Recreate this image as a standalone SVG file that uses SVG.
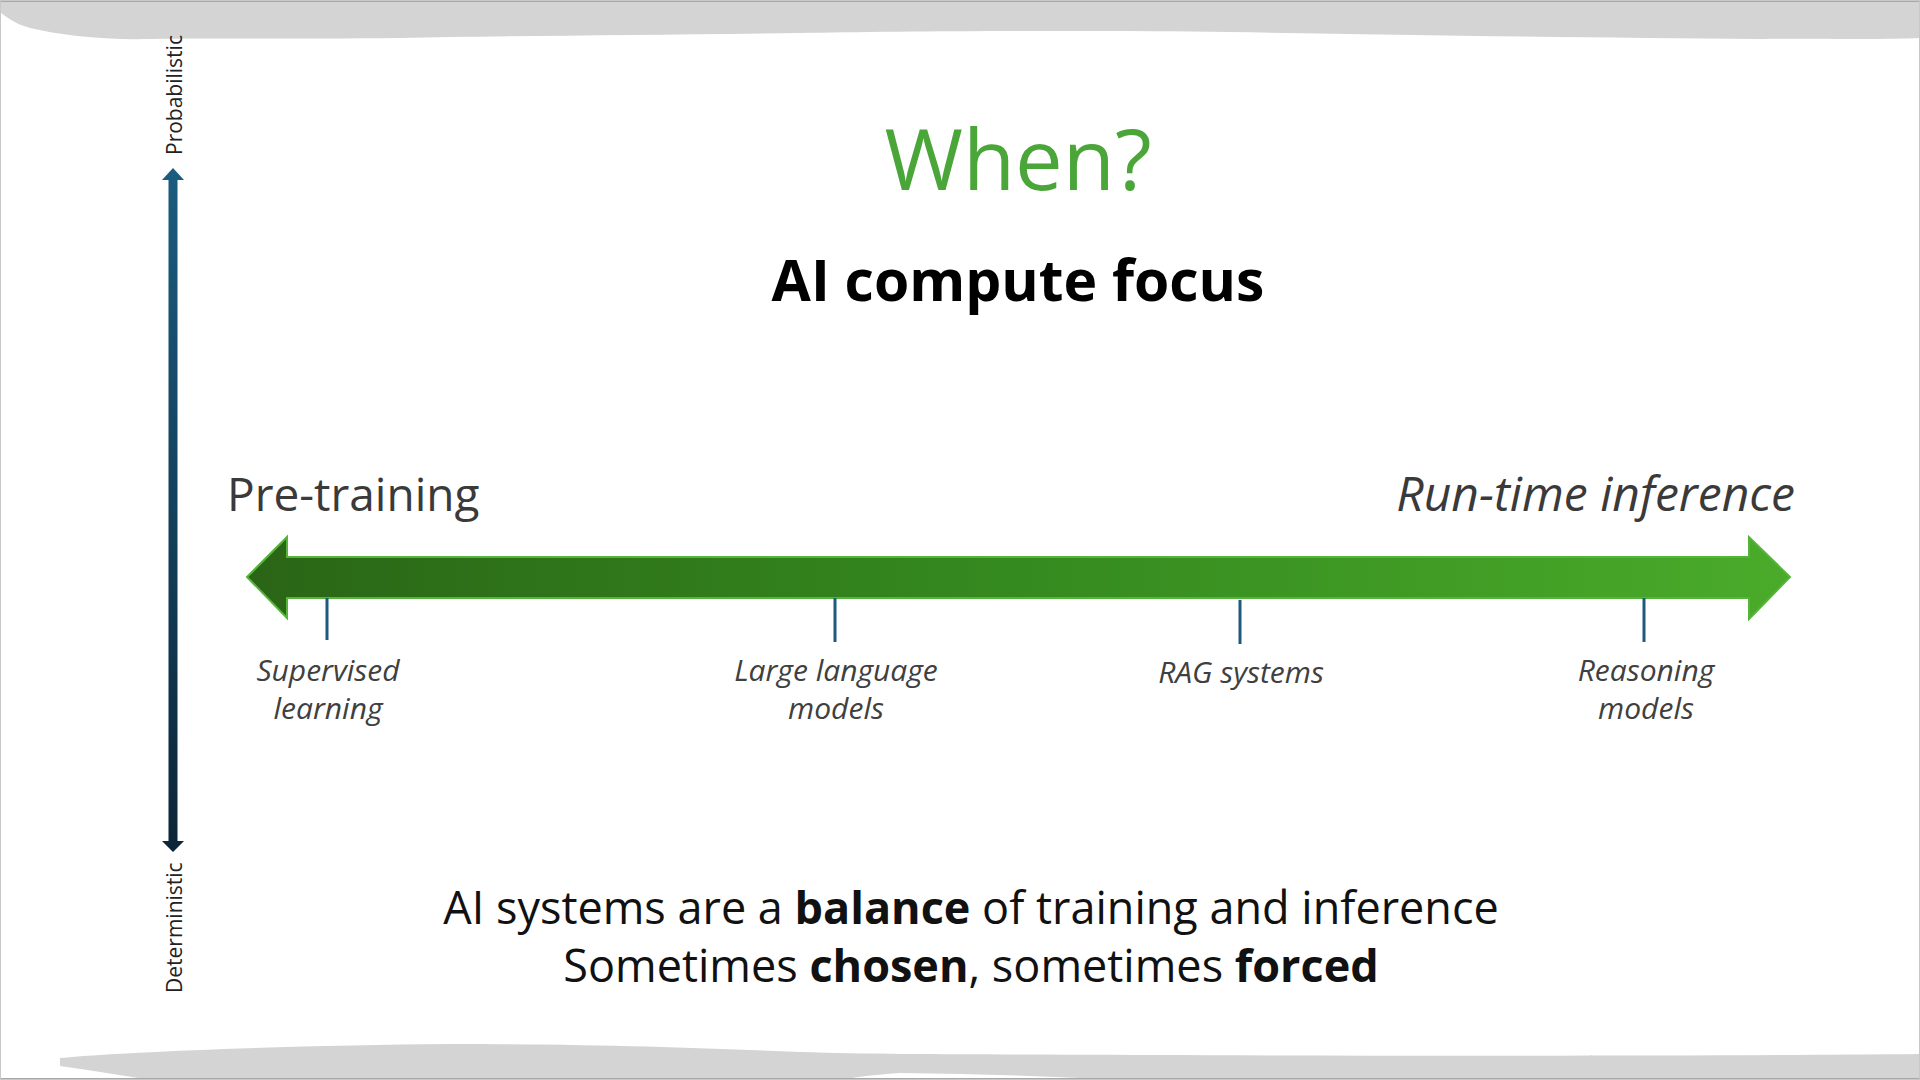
<svg xmlns="http://www.w3.org/2000/svg" width="1920" height="1080" viewBox="0 0 1920 1080">
<defs>
<linearGradient id="shaft" x1="0" y1="0" x2="1" y2="0">
<stop offset="0" stop-color="#2a6516"/>
<stop offset="0.5" stop-color="#358a1f"/>
<stop offset="1" stop-color="#4aab2a"/>
</linearGradient>
<linearGradient id="vax" x1="0" y1="0" x2="0" y2="1">
<stop offset="0" stop-color="#1b5c80"/>
<stop offset="1" stop-color="#0c2538"/>
</linearGradient>
<style>
.lbl{font-family:"Open Sans","Noto Sans",sans-serif;font-style:italic;font-size:30px;fill:#404040;text-anchor:middle}
.tick{stroke:#1d5a7c;stroke-width:3}
.ax{font-family:"Open Sans","Noto Sans",sans-serif;font-size:21px;fill:#222}
.btm{font-family:"Open Sans","Noto Sans",sans-serif;font-size:45px;fill:#111;text-anchor:middle}
</style>
</defs>
<rect x="0" y="0" width="1920" height="1080" fill="#ffffff"/>
<!-- brush strokes -->
<path d="M0,0 H1920 V38 C1880,40 1800,38 1760,39 C1600,38 1400,35 1230,32 C1100,30 900,31 800,33 C650,35 500,36 400,38 C300,39 200,38 150,39 C100,40 60,35 30,28 C15,24 5,16 0,12 Z" fill="#d4d4d4"/>
<rect x="0" y="0" width="1920" height="2" fill="#a8a8a8"/>
<path d="M60,1058 C120,1052 300,1045 450,1044 C600,1044 700,1048 800,1052 C900,1055 1000,1054 1150,1055 C1400,1056 1700,1056 1920,1054 V1080 H1120 C1050,1076 980,1074 900,1073 C870,1075 850,1078 840,1080 H150 C120,1075 90,1070 60,1066 Z" fill="#d4d4d4"/>
<rect x="0" y="1078" width="1920" height="2" fill="#a8a8a8"/>
<rect x="0.5" y="0.5" width="1919" height="1079" fill="none" stroke="#c8c8c8" stroke-width="1"/>

<g id="title">
<text x="1018" y="190" font-family="Open Sans, Noto Sans, sans-serif" font-size="85" fill="#4ba63a" text-anchor="middle">When?</text>
</g>
<g id="subtitle">
<text x="1018" y="301" font-family="Open Sans, Noto Sans, sans-serif" font-size="57" font-weight="bold" fill="#000" text-anchor="middle">AI compute focus</text>
</g>

<g id="vertical-axis">
<path d="M173,168 L184,180 L177.5,180 L177.5,841 L184,841 L173,852 L162,841 L168.5,841 L168.5,180 L162,180 Z" fill="url(#vax)"/>
<text class="ax" transform="translate(182,155) rotate(-90)">Probabilistic</text>
<text class="ax" transform="translate(182,993) rotate(-90)">Deterministic</text>
</g>

<g id="timeline">
<path d="M247,577 L287,537 L287,557 L1749,557 L1749,537 L1790,577 L1749,619 L1749,598 L287,598 L287,618 Z" fill="url(#shaft)" stroke="#55b43a" stroke-width="2" stroke-linejoin="miter"/>
<text x="227" y="511" font-family="Open Sans, Noto Sans, sans-serif" font-size="46" fill="#3a3a3a">Pre-training</text>
<text x="1795" y="511" font-family="Open Sans, Noto Sans, sans-serif" font-size="48" font-style="italic" fill="#3a3a3a" text-anchor="end">Run-time inference</text>
</g>

<g id="connectors">
<line class="tick" x1="327" y1="598" x2="327" y2="640"/>
<line class="tick" x1="835" y1="598" x2="835" y2="642"/>
<line class="tick" x1="1240" y1="600" x2="1240" y2="644"/>
<line class="tick" x1="1644" y1="598" x2="1644" y2="642"/>
</g>

<g id="supervised">
<text class="lbl" x="328" y="681">Supervised</text>
<text class="lbl" x="328" y="719">learning</text>
</g>
<g id="llm">
<text class="lbl" x="836" y="681">Large language</text>
<text class="lbl" x="836" y="719">models</text>
</g>
<g id="rag">
<text class="lbl" x="1241" y="683">RAG systems</text>
</g>
<g id="reasoning">
<text class="lbl" x="1646" y="681">Reasoning</text>
<text class="lbl" x="1646" y="719">models</text>
</g>

<g id="caption">
<text class="btm" x="971" y="924">AI systems are a <tspan font-weight="bold">balance</tspan> of training and inference</text>
<text class="btm" x="971" y="982">Sometimes <tspan font-weight="bold">chosen</tspan>, sometimes <tspan font-weight="bold">forced</tspan></text>
</g>
</svg>
